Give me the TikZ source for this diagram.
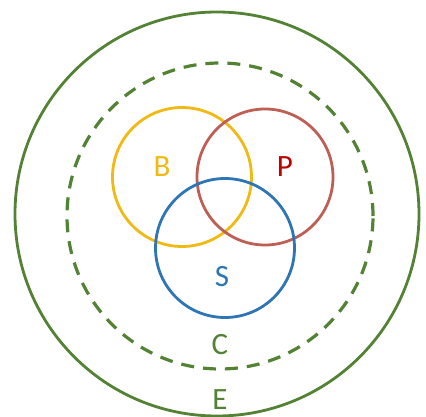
\documentclass[tikz,border=0pt]{standalone}
\usepackage{fontspec}
\setmainfont{Carlito}
\usepackage{xcolor}
\usetikzlibrary{positioning}
\definecolor{vngreen}{RGB}{84,130,53}
\definecolor{vnyel}{RGB}{240,185,20}
\definecolor{vnrose}{RGB}{190,95,85}
\definecolor{vnred}{RGB}{192,0,0}
\definecolor{vnblue}{RGB}{46,117,182}
\tikzset{
  ring/.style={draw, circle, line width=2.8pt, inner sep=0pt},
  dring/.style={ring, line width=3.2pt, dash pattern=on 13pt off 9pt},
  lbl/.style={font=\fontsize{31}{32}\selectfont, inner sep=0pt}
}
\begin{document}
\begin{tikzpicture}[x=1pt,y=-1pt]
  \useasboundingbox (0,0) rectangle (426,417);
  % outer rings
  \node[ring, draw=vngreen, minimum size=404pt] (env) at (217,214) {};
  \node[dring, draw=vngreen, minimum size=306pt] (ctx) at (220,216) {};
  % the three sets
  \node[ring, draw=vnyel, minimum size=139pt] (bset) at (182,177) {};
  \node[ring, draw=vnrose, minimum size=136pt] (pset) at (265,177) {};
  \node[ring, draw=vnblue, minimum size=139pt] (sset) at (225,248) {};
  % labels
  \node[lbl, text=vnyel] (blbl) at (162,167) {B};
  \node[lbl, text=vnred] (plbl) at (285,167) {P};
  \node[lbl, text=vnblue] (slbl) at (222,277) {S};
  \node[lbl, text=vngreen] (clbl) at (220,345) {C};
  \node[lbl, text=vngreen] (elbl) at (220,400) {E};
\end{tikzpicture}
\end{document}
